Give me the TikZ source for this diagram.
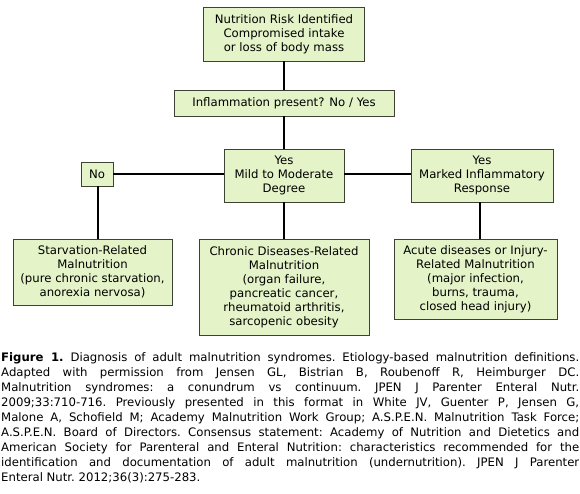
\documentclass[tikz,border=0pt]{standalone}
\usepackage{fontspec}
\setmainfont{DejaVu Sans}
\definecolor{boxfill}{HTML}{E5F3C8}
\definecolor{boxline}{HTML}{3C4234}
\begin{document}
\begin{tikzpicture}[x=1pt,y=-1pt,
  box/.style={draw=boxline,fill=boxfill,line width=0.8pt,align=center,inner sep=0pt,
    font=\fontsize{11.7}{14}\selectfont},
  conn/.style={line width=2pt,black}]
\useasboundingbox (0,0) rectangle (580,494);
\node[box,minimum width=161,minimum height=54] (top) at (284,34) {Nutrition Risk Identified\\Compromised intake\\or loss of body mass};
\node[box,minimum width=220,minimum height=26] (infl) at (284,103) {Inflammation present? No / Yes};
\node[box,minimum width=32,minimum height=24] (no) at (97,174) {No};
\node[box,minimum width=120,minimum height=53] (mild) at (284,175.5) {Yes\\Mild to Moderate\\Degree};
\node[box,minimum width=142,minimum height=53] (marked) at (482,175.5) {Yes\\Marked Inflammatory\\Response};
\node[box,minimum width=159,minimum height=66] (starv) at (92.5,272) {Starvation-Related\\Malnutrition\\(pure chronic starvation,\\anorexia nervosa)};
\node[box,minimum width=170,minimum height=96] (chronic) at (284,287) {Chronic Diseases-Related\\Malnutrition\\(organ failure,\\pancreatic cancer,\\rheumatoid arthritis,\\sarcopenic obesity};
\node[box,minimum width=163,minimum height=80] (acute) at (475.5,279) {Acute diseases or Injury-\\Related Malnutrition\\(major infection,\\burns, trauma,\\closed head injury)};
\draw[conn] (top.south) -- (infl.north);
\draw[conn] (infl.south) -- (mild.north);
\draw[conn] (mild.south) -- (chronic.north);
\draw[conn] (no.east) -- (no.east -| mild.west);
\draw[conn] (no.east -| mild.east) -- (no.east -| marked.west);
\draw[conn] ([xshift=1pt]no.south) -- ([xshift=1pt]no.south |- starv.north);
\draw[conn] ([xshift=-2pt]marked.south) -- ([xshift=-2pt]marked.south |- acute.north);
\newcommand{\capln}[1]{\makebox[578pt][s]{#1}}
\node[anchor=north west,inner sep=0pt,align=left,font=\fontsize{11.7}{15}\selectfont\frenchspacing] (cap) at (1,352.5) {%
\capln{\textbf{Figure 1.} Diagnosis of adult malnutrition syndromes. Etiology-based malnutrition definitions.}\\
\capln{Adapted with permission from Jensen GL, Bistrian B, Roubenoff R, Heimburger DC.}\\
\capln{Malnutrition syndromes: a conundrum vs continuum. JPEN J Parenter Enteral Nutr.}\\
\capln{2009;33:710-716. Previously presented in this format in White JV, Guenter P, Jensen G,}\\
\capln{Malone A, Schofield M; Academy Malnutrition Work Group; A.S.P.E.N. Malnutrition Task Force;}\\
\capln{A.S.P.E.N. Board of Directors. Consensus statement: Academy of Nutrition and Dietetics and}\\
\capln{American Society for Parenteral and Enteral Nutrition: characteristics recommended for the}\\
\capln{identification and documentation of adult malnutrition (undernutrition). JPEN J Parenter}\\
Enteral Nutr. 2012;36(3):275-283.};
\end{tikzpicture}
\end{document}
